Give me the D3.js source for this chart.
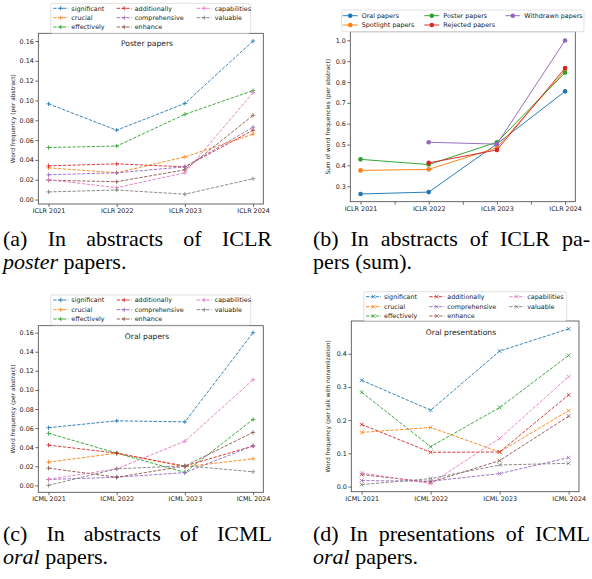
<!DOCTYPE html>
<html>
<head>
<meta charset="utf-8">
<script src="https://cdn.jsdelivr.net/npm/d3@7"></script>
<style>
  body { margin: 0; background: #fff; }
  svg { display: block; }
</style>
</head>
<body>
<svg id="fig" width="592" height="579"></svg>
<script>
// >-----------------< Data >-------------------<
const iclrYears = ["ICLR 2021", "ICLR 2022", "ICLR 2023", "ICLR 2024"];
const icmlYears = ["ICML 2021", "ICML 2022", "ICML 2023", "ICML 2024"];

const words = ["significant", "crucial", "effectively", "additionally",
               "comprehensive", "enhance", "capabilities", "valuable"];

// (a) ICLR poster abstracts, one row per word
const posterFreq = [
  [0.0966, 0.070, 0.097, 0.160],
  [0.032, 0.027, 0.043, 0.066],
  [0.0525, 0.054, 0.086, 0.110],
  [0.034, 0.036, 0.033, 0.070],
  [0.025, 0.027, 0.033, 0.073],
  [0.0195, 0.018, 0.030, 0.085],
  [0.020, 0.012, 0.027, 0.108],
  [0.0077, 0.0096, 0.0054, 0.021]
];

// (b) ICLR sums per paper type
const paperTypes = ["Oral papers", "Spotlight papers", "Poster papers", "Rejected papers", "Withdrawn papers"];
const sumFreq = [
  [0.263, 0.272, 0.503, 0.755],
  [0.376, 0.381, 0.485, 0.855],
  [0.429, 0.404, 0.511, 0.845],
  [null, 0.412, 0.474, 0.867],
  [null, 0.511, 0.502, 0.999]
];

// (c) ICML oral abstracts
const oralFreq = [
  [0.0604, 0.0676, 0.0665, 0.160],
  [0.0243, 0.0337, 0.0194, 0.0278],
  [0.0545, 0.0338, 0.0135, 0.069],
  [0.0422, 0.0337, 0.0202, 0.0412],
  [0.0061, 0.0085, 0.0133, 0.0414],
  [0.018, 0.0085, 0.0202, 0.0555],
  [0.0063, 0.0173, 0.0462, 0.1107],
  [0.0, 0.0173, 0.0205, 0.0142]
];

// (d) ICML oral presentations
const talkFreq = [
  [0.320, 0.230, 0.408, 0.475],
  [0.163, 0.178, 0.104, 0.229],
  [0.284, 0.120, 0.238, 0.395],
  [0.187, 0.103, 0.104, 0.276],
  [0.018, 0.016, 0.039, 0.087],
  [0.036, 0.013, 0.078, 0.212],
  [0.041, 0.009, 0.145, 0.331],
  [0.006, 0.024, 0.065, 0.070]
];

const tab10 = ["#1f77b4", "#ff7f0e", "#2ca02c", "#d62728", "#9467bd", "#8c564b", "#e377c2", "#7f7f7f"];

// >-----------------< Setup >-------------------<
const svg = d3.select("#fig");
svg.append("rect").attr("width", 592).attr("height", 579).attr("fill", "#fff");

const tickFont = "DejaVu Sans, sans-serif";

const markerPath = {
  plus: "M-2.2,0H2.2M0,-2.2V2.2",
  cross: "M-1.9,-1.9L1.9,1.9M-1.9,1.9L1.9,-1.9"
};

function drawMarker(g, type, cx, cy, color) {
  if (type === "circle") {
    g.append("circle").attr("cx", cx).attr("cy", cy).attr("r", 2.3).attr("fill", color);
  } else {
    g.append("path")
      .attr("d", markerPath[type])
      .attr("transform", `translate(${cx},${cy})`)
      .attr("stroke", color)
      .attr("stroke-width", 0.8)
      .attr("fill", "none");
  }
}

// >-----------------< Panel >-------------------<
function drawPanel(cfg) {
  const g = svg.append("g");
  const b = cfg.box;

  const x = d3.scaleLinear().domain([-0.15, 3.15]).range([b.x0, b.x1]);
  const y = d3.scaleLinear().domain(cfg.yDomain).range([b.y1, b.y0]);

  // x axis
  const xAxis = g.append("g")
    .attr("transform", `translate(0,${b.y1})`)
    .call(d3.axisBottom(x)
      .tickValues(cfg.xTicks)
      .tickFormat(v => Number.isInteger(v) ? cfg.cats[v] : "")
      .tickSize(3).tickPadding(1.5).tickSizeOuter(0));

  // y axis
  const yAxis = g.append("g")
    .attr("transform", `translate(${b.x0},0)`)
    .call(d3.axisLeft(y)
      .tickValues(cfg.yTicks)
      .tickFormat(d3.format(cfg.yFormat))
      .tickSize(3).tickPadding(1.5).tickSizeOuter(0));

  [xAxis, yAxis].forEach(a => {
    a.select(".domain").remove();
    a.selectAll("line").attr("stroke", "#333").attr("stroke-width", 0.7);
    a.selectAll("text")
      .attr("font-family", tickFont)
      .attr("font-size", "6.4px")
      .attr("fill", "#222");
  });

  // frame
  g.append("rect")
    .attr("x", b.x0).attr("y", b.y0)
    .attr("width", b.x1 - b.x0).attr("height", b.y1 - b.y0)
    .attr("fill", "none").attr("stroke", "#444").attr("stroke-width", 0.8);

  // y label
  g.append("text")
    .attr("transform", `translate(${cfg.yLabelX},${(b.y0 + b.y1) / 2}) rotate(-90)`)
    .attr("text-anchor", "middle")
    .attr("font-family", tickFont)
    .attr("font-size", "5.9px")
    .attr("fill", "#222")
    .text(cfg.yLabel);

  // title
  if (cfg.title) {
    g.append("text")
      .attr("x", cfg.titleX).attr("y", cfg.titleY)
      .attr("text-anchor", "middle")
      .attr("font-family", tickFont)
      .attr("font-size", "7.6px")
      .attr("fill", "#222")
      .text(cfg.title);
  }

  // lines
  const line = d3.line()
    .defined(v => v != null)
    .x((v, i) => x(i))
    .y(v => y(v));

  const plot = g.append("g");
  cfg.series.forEach((vals, si) => {
    const color = tab10[si];
    plot.append("path")
      .datum(vals)
      .attr("d", line)
      .attr("fill", "none")
      .attr("stroke", color)
      .attr("stroke-width", cfg.dashed ? 0.9 : 0.95)
      .attr("stroke-dasharray", cfg.dashed ? "3.3,1.5" : null);
    vals.forEach((v, i) => {
      if (v != null) drawMarker(plot, cfg.marker, x(i), y(v), color);
    });
  });

  // legend
  const L = cfg.legend;
  const lg = g.append("g");
  lg.append("rect")
    .attr("x", L.x0).attr("y", L.y0)
    .attr("width", L.x1 - L.x0).attr("height", L.y1 - L.y0)
    .attr("rx", 2)
    .attr("fill", "#fff").attr("fill-opacity", 0.85)
    .attr("stroke", "#d4d4d4").attr("stroke-width", 0.7);

  cfg.names.forEach((name, i) => {
    const col = Math.floor(i / L.rowsPerCol);
    const row = i % L.rowsPerCol;
    const hx = L.cols[col];
    const ry = L.rows[row];
    const color = tab10[i];
    lg.append("line")
      .attr("x1", hx).attr("x2", hx + 15)
      .attr("y1", ry).attr("y2", ry)
      .attr("stroke", color)
      .attr("stroke-width", cfg.dashed ? 0.9 : 0.95)
      .attr("stroke-dasharray", cfg.dashed ? "3.3,1.5" : null);
    drawMarker(lg, cfg.marker, hx + 7.5, ry, color);
    lg.append("text")
      .attr("x", hx + L.textGap).attr("y", ry + 2.3)
      .attr("font-family", tickFont)
      .attr("font-size", "6.4px")
      .attr("fill", "#222")
      .text(name);
  });
}

const integerTicks = [0, 1, 2, 3];
const freqTicks = d3.range(0, 0.161, 0.02);

drawPanel({
  box: { x0: 38.3, x1: 263.3, y0: 33.3, y1: 204 },
  cats: iclrYears, xTicks: integerTicks,
  yDomain: [-0.0045, 0.1678], yTicks: freqTicks, yFormat: ".2f",
  yLabel: "Word frequency (per abstract)", yLabelX: 15,
  title: "Poster papers", titleX: 147, titleY: 46,
  series: posterFreq, names: words, marker: "plus", dashed: true,
  legend: { x0: 50.7, x1: 250.7, y0: 3.3, y1: 33.3, rowsPerCol: 3,
            rows: [8.3, 17.7, 27], cols: [53.3, 116.7, 196.7], textGap: 18 }
});

drawPanel({
  box: { x0: 350.3, x1: 575.3, y0: 31.7, y1: 201.7 },
  cats: iclrYears, xTicks: [0, 0.5, 1, 1.5, 2, 2.5, 3],
  yDomain: [0.226, 1.041], yTicks: d3.range(0.3, 1.01, 0.1), yFormat: ".1f",
  yLabel: "Sum of word frequencies (per abstract)", yLabelX: 330,
  title: null,
  series: sumFreq, names: paperTypes, marker: "circle", dashed: false,
  legend: { x0: 341.7, x1: 584, y0: 10, y1: 31.7, rowsPerCol: 2,
            rows: [15.7, 25], cols: [342.7, 424.3, 505.3], textGap: 19 }
});

drawPanel({
  box: { x0: 38.3, x1: 263.3, y0: 325.7, y1: 492.3 },
  cats: icmlYears, xTicks: integerTicks,
  yDomain: [-0.0073, 0.1673], yTicks: freqTicks, yFormat: ".2f",
  yLabel: "Word frequency (per abstract)", yLabelX: 15,
  title: "Oral papers", titleX: 147, titleY: 339,
  series: oralFreq, names: words, marker: "plus", dashed: true,
  legend: { x0: 50.7, x1: 250.7, y0: 295, y1: 325, rowsPerCol: 3,
            rows: [300, 309.7, 319], cols: [53.3, 116.7, 196.7], textGap: 18 }
});

drawPanel({
  box: { x0: 351.3, x1: 579, y0: 321, y1: 491.7 },
  cats: icmlYears, xTicks: integerTicks,
  yDomain: [-0.0155, 0.4985], yTicks: [0, 0.1, 0.2, 0.3, 0.4], yFormat: ".1f",
  yLabel: "Word frequency (per talk with noramlization)", yLabelX: 330,
  title: "Oral presentations", titleX: 461, titleY: 335,
  series: talkFreq, names: words, marker: "cross", dashed: true,
  legend: { x0: 363.7, x1: 566.7, y0: 291.7, y1: 321, rowsPerCol: 3,
            rows: [296.7, 306.7, 316], cols: [366, 429.3, 509.3], textGap: 18 }
});

// >-----------------< Captions >-------------------<
const capFont = "Liberation Serif, Times New Roman, serif";
const capSize = 22;

// words: [text, italic]
function caption(x0, x1, y, lines) {
  const g = svg.append("g")
    .attr("font-family", capFont)
    .attr("font-size", capSize + "px")
    .attr("fill", "#000");
  lines.forEach((ln, li) => {
    const by = y + li * 23;
    const texts = ln.words.map(([w, it]) =>
      g.append("text").attr("y", by).attr("font-style", it ? "italic" : "normal").text(w));
    const widths = texts.map(t => t.node().getComputedTextLength());
    const total = d3.sum(widths);
    const space = ln.justify && texts.length > 1
      ? (x1 - x0 - total) / (texts.length - 1)
      : capSize * 0.25;
    let cx = x0;
    texts.forEach((t, i) => {
      t.attr("x", cx);
      cx += widths[i] + space;
    });
  });
}

caption(3, 272, 246, [
  { justify: true, words: [["(a)"], ["In"], ["abstracts"], ["of"], ["ICLR"]] },
  { justify: false, words: [["poster", true], ["papers."]] }
]);
caption(313, 590, 246, [
  { justify: true, words: [["(b)"], ["In"], ["abstracts"], ["of"], ["ICLR"], ["pa-"]] },
  { justify: false, words: [["pers"], ["(sum)."]] }
]);
caption(3, 272, 541, [
  { justify: true, words: [["(c)"], ["In"], ["abstracts"], ["of"], ["ICML"]] },
  { justify: false, words: [["oral", true], ["papers."]] }
]);
caption(313, 590, 541, [
  { justify: true, words: [["(d)"], ["In"], ["presentations"], ["of"], ["ICML"]] },
  { justify: false, words: [["oral", true], ["papers."]] }
]);
</script>
</body>
</html>
